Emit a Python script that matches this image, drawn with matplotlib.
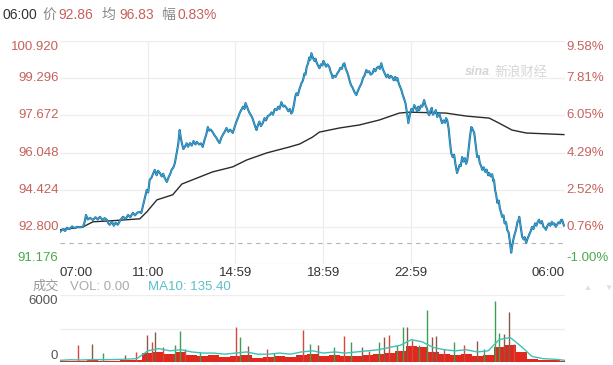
import matplotlib
matplotlib.use("Agg")
import matplotlib.pyplot as plt
import matplotlib.transforms as mtrans

plt.rcParams['font.family'] = ['Liberation Sans', 'Noto Sans CJK SC', 'DejaVu Sans']

# price line: (minutes since 07:00, price)
price_pts = [
    (0, 92.58), (8, 92.70), (14, 92.62), (19, 92.76), (26, 92.70), (33, 92.82), (40, 92.74),
    (46, 92.80), (55, 92.78), (63, 92.80), (68, 93.05), (71, 93.32), (76, 93.12), (82, 93.19),
    (90, 93.10), (97, 93.22), (103, 93.12), (109, 93.24), (116, 93.10), (122, 93.18),
    (128, 93.11), (132, 92.95), (136, 92.89), (142, 93.02), (147, 92.85), (152, 92.98),
    (158, 92.89), (165, 93.10), (172, 93.24), (180, 93.15), (186, 93.32), (192, 93.22),
    (199, 93.41), (205, 93.30), (211, 93.42), (218, 93.45), (222, 93.40), (226, 93.67),
    (231, 94.00), (237, 94.41), (241, 94.30), (245, 94.85), (250, 94.95), (254, 95.10),
    (259, 95.29), (264, 95.05), (268, 95.25), (273, 95.15), (278, 95.00), (282, 95.12),
    (286, 94.94), (292, 94.76), (297, 94.98), (301, 95.10), (305, 95.29), (310, 95.40),
    (314, 95.59), (319, 96.03), (323, 96.40), (327, 97.03), (330, 96.70), (333, 96.46),
    (337, 96.20), (341, 96.29), (346, 96.45), (350, 96.30), (355, 96.46), (360, 96.35),
    (365, 96.55), (370, 96.40), (374, 96.51), (380, 96.40), (385, 96.45), (390, 96.29),
    (395, 96.60), (400, 96.85), (404, 97.16), (408, 97.00), (412, 97.05), (417, 96.94),
    (422, 96.80), (427, 96.70), (432, 96.55), (436, 96.46), (441, 96.70), (446, 96.85),
    (450, 96.95), (455, 97.12), (460, 96.95), (465, 97.05), (472, 96.90), (476, 97.10),
    (481, 97.35), (486, 97.55), (491, 97.77), (495, 97.90), (500, 98.05), (504, 97.95),
    (507, 98.21), (512, 98.00), (517, 97.80), (521, 97.70), (526, 97.55), (530, 97.35),
    (534, 97.15), (537, 97.03), (541, 97.25), (545, 97.40), (549, 97.20), (554, 97.33),
    (559, 97.55), (563, 97.45), (568, 97.65), (573, 97.68), (578, 97.80), (582, 97.70),
    (587, 97.95), (592, 97.90), (596, 98.05), (600, 97.95), (605, 98.25), (610, 98.05),
    (614, 98.10), (619, 97.99), (624, 97.85), (628, 97.95), (632, 97.75), (635, 97.81),
    (640, 98.20), (643, 98.50), (646, 98.64), (650, 98.55), (655, 98.85), (660, 99.08),
    (664, 99.20), (668, 99.50), (671, 99.45), (674, 99.78), (678, 99.95), (681, 100.20),
    (684, 100.10), (687, 100.39), (691, 100.20), (695, 100.05), (698, 100.15), (701, 99.99),
    (705, 99.85), (709, 99.73), (713, 99.90), (717, 99.85), (720, 100.05), (723, 99.95),
    (727, 99.80), (731, 99.90), (736, 99.78), (740, 99.55), (743, 99.45), (745, 99.30),
    (749, 99.40), (753, 99.35), (758, 99.51), (762, 99.60), (766, 99.75), (770, 99.70),
    (774, 99.90), (777, 99.95), (781, 99.70), (785, 99.55), (788, 99.40), (791, 99.21),
    (795, 99.00), (799, 98.90), (803, 98.75), (806, 98.65), (810, 98.56), (813, 98.70),
    (817, 98.85), (820, 98.95), (824, 99.08), (828, 99.30), (832, 99.40), (837, 99.65),
    (841, 99.55), (845, 99.60), (849, 99.45), (854, 99.51), (858, 99.70), (862, 99.60),
    (866, 99.75), (870, 99.80), (874, 99.70), (878, 99.95), (882, 99.70), (886, 99.55),
    (889, 99.45), (892, 99.34), (896, 99.45), (900, 99.30), (904, 99.40), (908, 99.34),
    (912, 99.20), (916, 99.35), (919, 99.20), (922, 99.30), (926, 99.05), (930, 98.90),
    (933, 98.77), (936, 98.60), (940, 98.40), (944, 98.21), (948, 97.80), (952, 97.33),
    (956, 97.70), (960, 97.95), (964, 97.85), (968, 98.12), (972, 98.00), (976, 97.85),
    (979, 98.05), (982, 97.90), (986, 98.10), (990, 98.05), (995, 98.34), (999, 98.10),
    (1003, 97.95), (1006, 97.75), (1009, 97.68), (1013, 97.90), (1016, 98.00), (1019, 97.70),
    (1023, 97.77), (1027, 97.90), (1031, 97.60), (1036, 97.77), (1040, 97.55), (1044, 97.33),
    (1048, 97.45), (1052, 97.35), (1055, 97.55), (1058, 97.47), (1062, 97.10), (1065, 96.60),
    (1069, 96.03), (1073, 95.85), (1077, 95.95), (1081, 95.50), (1085, 95.15), (1089, 95.35),
    (1092, 95.50), (1095, 95.45), (1099, 95.85), (1103, 95.65), (1106, 95.80), (1110, 95.55),
    (1113, 95.72), (1116, 96.10), (1120, 96.70), (1124, 97.16), (1128, 97.05), (1132, 96.90),
    (1135, 96.50), (1138, 96.10), (1140, 95.85), (1144, 95.90), (1147, 95.60), (1151, 95.45),
    (1154, 95.29), (1158, 95.40), (1162, 95.20), (1166, 95.30), (1170, 95.05), (1173, 95.15),
    (1177, 95.00), (1181, 95.10), (1184, 94.80), (1186, 94.85), (1189, 94.40), (1192, 94.20),
    (1195, 93.85), (1199, 93.95), (1202, 93.60), (1205, 93.45), (1208, 93.24), (1212, 93.30),
    (1215, 92.95), (1219, 93.00), (1222, 92.67), (1226, 92.55), (1229, 92.20), (1233, 91.67),
    (1236, 92.00), (1239, 92.25), (1242, 92.45), (1246, 92.67), (1250, 93.00), (1253, 93.10),
    (1255, 93.24), (1258, 92.90), (1261, 92.55), (1263, 92.36), (1267, 92.25), (1270, 92.35),
    (1274, 92.10), (1278, 92.30), (1282, 92.45), (1286, 92.60), (1290, 92.80), (1294, 92.70),
    (1298, 92.95), (1302, 92.85), (1305, 93.00), (1309, 93.11), (1313, 92.95), (1317, 93.05),
    (1321, 92.80), (1325, 92.75), (1328, 92.67), (1332, 92.85), (1336, 92.95), (1340, 92.85),
    (1344, 93.02), (1348, 92.90), (1351, 92.95), (1355, 92.80), (1358, 92.89), (1362, 93.00),
    (1366, 92.95), (1369, 93.10), (1372, 93.11), (1375, 92.95), (1377, 92.86),
]
price_t = [p[0] for p in price_pts]
price_v = [p[1] for p in price_pts]

# average price line
avg_t = [0, 63, 90, 136, 218, 237, 265, 308, 333, 382, 417, 472, 510, 565, 627, 655, 690,
         709, 764, 818, 873, 927, 955, 1055, 1110, 1173, 1200, 1235, 1274, 1377]
avg_v = [92.67, 92.80, 93.02, 93.06, 93.15, 93.45, 93.98, 94.20, 94.67, 94.98, 95.20, 95.42,
         95.72, 96.03, 96.29, 96.42, 96.72, 96.94, 97.12, 97.25, 97.47, 97.77, 97.81, 97.77,
         97.64, 97.55, 97.33, 97.03, 96.90, 96.83]

prev_close = 92.10
y_ticks = [91.176, 92.800, 94.424, 96.048, 97.672, 99.296, 100.920]
y_labels = ['91.176', '92.800', '94.424', '96.048', '97.672', '99.296', '100.920']
pct_labels = ['-1.00%', '0.76%', '2.52%', '4.29%', '6.05%', '7.81%', '9.58%']
time_ticks = [0, 240, 479, 719, 959, 1380]
time_labels = ['07:00', '11:00', '14:59', '18:59', '22:59', '06:00']

# volume: background level every 30 min, MA10, and single spikes
vol_t = [0, 30, 60, 90, 120, 150, 180, 210, 240, 270, 300, 330, 360, 390, 420, 450, 480,
         510, 540, 570, 600, 630, 660, 690, 720, 750, 780, 810, 840, 870, 900, 930, 960,
         990, 1020, 1050, 1080, 1110, 1140, 1170, 1200, 1230, 1260, 1290, 1320, 1350, 1380]
vol_base = [100, 120, 100, 150, 100, 120, 150, 200, 800, 900, 700, 900, 600, 500, 600, 450,
            500, 600, 400, 450, 500, 450, 600, 700, 500, 600, 500, 550, 600, 700, 800, 1000,
            1400, 1300, 900, 700, 600, 700, 500, 600, 1300, 1500, 900, 300, 200, 150, 100]
vol_ma10 = [150, 200, 180, 220, 200, 220, 250, 300, 1000, 1200, 1000, 1100, 900, 800, 800,
            700, 800, 900, 700, 700, 800, 700, 900, 1000, 800, 900, 800, 900, 1000, 1100,
            1300, 1500, 2000, 1800, 1300, 1100, 1000, 1100, 900, 1000, 2000, 2200, 1400, 500,
            300, 250, 150]
spike_t = [49, 87, 117, 177, 207, 237, 251, 259, 281, 314, 327, 341, 382, 480, 491, 513,
           565, 586, 663, 682, 704, 750, 777, 796, 824, 845, 873, 886, 900, 922, 938, 949,
           963, 982, 1003, 1017, 1028, 1050, 1077, 1104, 1140, 1159, 1189, 1200, 1214, 1227,
           1241]
spike_v = [1500, 1600, 800, 600, 900, 2400, 1800, 2700, 1300, 1500, 2800, 1200, 900, 3100,
           2200, 1400, 1200, 800, 2900, 1600, 1500, 1300, 2300, 1800, 1300, 1000, 1800, 2200,
           2400, 1500, 3100, 3100, 2000, 1500, 4700, 2200, 2300, 1200, 1800, 1500, 1900, 1200,
           5500, 2600, 2500, 4500, 1600]
spike_c = ['r', 'b', 'g', 'b', 'r', 'b', 'r', 'b', 'r', 'g', 'g', 'r', 'g', 'r', 'g', 'b',
           'r', 'g', 'r', 'g', 'b', 'g', 'r', 'g', 'b', 'r', 'g', 'b', 'r', 'g', 'g', 'b',
           'r', 'g', 'g', 'b', 'b', 'r', 'g', 'r', 'b', 'g', 'g', 'g', 'b', 'b', 'r']

RED = '#c5625c'
GREEN = '#4aa94a'
GRID = '#ededed'
colmap = {'r': '#d9473a', 'g': '#3f9e56', 'b': '#8a5a48'}

fig = plt.figure(figsize=(6.13, 3.65), dpi=100)
W, H = 613.0, 365.0

# ---------- price panel ----------
ax = fig.add_axes([60 / W, 1 - 264 / H, 505 / W, 223 / H])
ax.plot(avg_t, avg_v, color='#2b2b2b', lw=1.0, zorder=3)
ax.plot(price_t, price_v, color='#15709e', lw=1.5, zorder=4, solid_joinstyle='round')
ax.plot(price_t, price_v, color='#46a8d8', lw=0.6, zorder=5, solid_joinstyle='round')
ax.axhline(prev_close, color='#b5b5b5', lw=0.8, ls=(0, (4, 4)), zorder=2)
ax.set_xlim(0, 1380)
ax.set_ylim(y_ticks[0], y_ticks[-1])
ax.set_yticks(y_ticks)
ax.set_xticks(time_ticks[1:-1])
ax.grid(True, color=GRID, lw=0.9)
ax.tick_params(length=0, labelleft=False, labelbottom=False)
for s in ax.spines.values():
    s.set_visible(False)

ytr = mtrans.blended_transform_factory(ax.transAxes, ax.transData)
for i, v in enumerate(y_ticks):
    c = GREEN if v < prev_close else RED
    va = 'center'
    if i == 0:
        va = 'bottom'
    elif i == len(y_ticks) - 1:
        va = 'top'
    ax.text(-0.003, v, y_labels[i], transform=ytr, ha='right', va=va, color=c, fontsize=9.5)
    ax.text(1.003, v, pct_labels[i], transform=ytr, ha='left', va=va, color=c, fontsize=9.5)

xtr = mtrans.blended_transform_factory(ax.transData, ax.transAxes)
for i, t in enumerate(time_ticks):
    ha = 'center'
    if i == 0:
        ha = 'left'
    elif i == len(time_ticks) - 1:
        ha = 'right'
    ax.text(t, -0.015, time_labels[i], transform=xtr, ha=ha, va='top', color='#333333',
            fontsize=9.5)

# watermark
fig.text(465 / W, 1 - 72 / H, 'sina', color='#d6d6d6', fontsize=9, style='italic',
         fontweight='bold', va='center', ha='left')
fig.text(494 / W, 1 - 72 / H, '新浪财经', color='#d6d6d6', fontsize=9.5, style='italic',
         va='center', ha='left')

# ---------- title ----------
title_parts = [('06:00', '#333333', 3), ('价', '#888888', 42), ('92.86', RED, 58),
               ('均', '#888888', 102), ('96.83', RED, 119), ('幅', '#888888', 161),
               ('0.83%', RED, 178)]
for txt, c, x in title_parts:
    fig.text(x / W, 1 - 15 / H, txt, color=c, fontsize=10, ha='left', va='center')

# ---------- volume panel ----------
ax2 = fig.add_axes([60 / W, 1 - 362 / H, 505 / W, 67 / H])
ax2.fill_between(vol_t, vol_base, step='mid', color='#e0281e', lw=0, zorder=2)
ax2.vlines(spike_t, 0, spike_v, colors=[colmap[c] for c in spike_c], lw=1.0, zorder=3)
ax2.plot(vol_t, vol_ma10, color='#3cc3b5', lw=1.0, zorder=4)
ax2.set_xlim(0, 1380)
ax2.set_ylim(0, 6000)
ax2.set_yticks([3000, 6000])
ax2.set_xticks([])
ax2.grid(True, axis='y', color=GRID, lw=0.9)
ax2.tick_params(length=0, labelleft=False, labelbottom=False)
for s in ax2.spines.values():
    s.set_visible(False)
ax2.axhline(0, color='#555555', lw=0.8, zorder=5)
vtr = mtrans.blended_transform_factory(ax2.transAxes, ax2.transData)
ax2.text(-0.005, 6000, '6000', transform=vtr, ha='right', va='top', color='#555555',
         fontsize=9.5)
ax2.text(-0.005, 0, '0', transform=vtr, ha='right', va='bottom', color='#555555',
         fontsize=9.5)

fig.text(33 / W, 1 - 287 / H, '成交', color='#999999', fontsize=9.5, va='center')
fig.text(70 / W, 1 - 287 / H, 'VOL: 0.00', color='#aaaaaa', fontsize=9.5, va='center')
fig.text(148 / W, 1 - 287 / H, 'MA10: 135.40', color='#5bbfc9', fontsize=9.5, va='center')
fig.text(583 / W, 1 - 288 / H, '▲', color='#dddddd', fontsize=6, va='center')
fig.text(604 / W, 1 - 288 / H, '▼', color='#dddddd', fontsize=6, va='center')

fig.savefig('out.png', dpi=100)
